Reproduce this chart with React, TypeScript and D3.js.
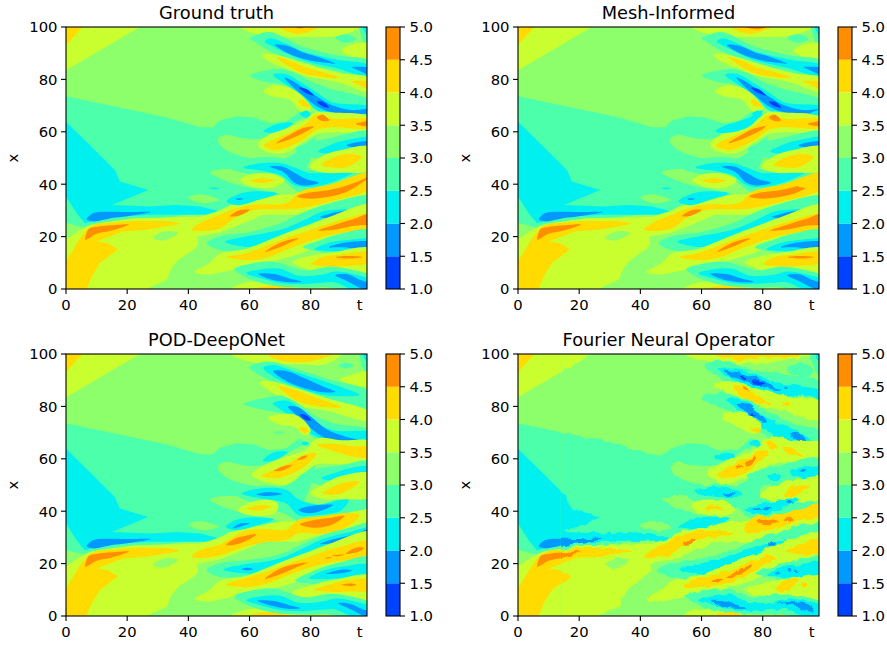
import React from 'react';
import * as d3 from 'd3';

type Pt = [number, number];
type Rb = [number, number, number];
type Streak = [number, Rb[]];

const bandColors = ['#0043ff', '#0099ff', '#00f0f0', '#4bffab', '#8cff6a', '#c9ff2e', '#ffdb00', '#ff8e00'];
const bandSpread = [1, 1, 1.05, 1.15, 1, 1.12, 1.05, 1];
const levels = [1, 1.5, 2, 2.5, 3, 3.5, 4, 4.5, 5];
const xTicks = [0, 20, 40, 60, 80];
const yTicks = [0, 20, 40, 60, 80, 100];
const titles = ['Ground truth', 'Mesh-Informed', 'POD-DeepONet', 'Fourier Neural Operator'];
const origins: Pt[] = [[66, 27], [518, 27], [66, 354], [518, 354]];

// band index: 0 B1, 1 B2, 2 cyan, 3 teal, 4 green, 5 lime, 6 gold, 7 orange
const regions: [number, Pt[]][] = [
  [5, [[-4, 104], [24.4, 104], [24.2, 100], [-4, 80.8]]],
  [6, [[-4, 104], [5.6, 104], [5.4, 100], [-4, 88]]],
  [3, [[-4, 74.5], [33, 65.5], [43.8, 61.7], [48.1, 61.7], [50.3, 64.2], [55.8, 65.9], [61.2, 65.5], [66.7, 63.3], [72, 64], [76.5, 67.8], [79.7, 65.2], [82, 60], [80, 50], [78, 44], [75.4, 39], [72, 36.5], [61.2, 34], [53.6, 32], [50, 30], [30, 27], [10, 25], [5.6, 23.6], [-4, 26.5]]],
  [2, [[-4, 68], [0, 63.8], [9.5, 53], [16, 45.4], [17.6, 41], [26.9, 37.8], [15, 32.1], [27.5, 31.5], [36.2, 32.1], [43.8, 31.5], [49.8, 29.8], [49.3, 28.3], [27.5, 28.3], [15, 27.5], [6.2, 25.1], [3.5, 28.9], [0, 35.3], [-4, 40]]],
  [5, [[-4, 16], [4.6, 22.5], [8, 24.5], [12, 25.4], [22, 27], [43.8, 27.6], [50.3, 30], [53.6, 32], [61.2, 34], [72, 36.5], [75.4, 39], [83, 42.2], [104, 47.5], [104, 36], [83, 30.8], [75.4, 28.3], [64.5, 28.3], [55.8, 24], [50, 21.5], [43, 20], [43.2, 17], [42.2, 15.5], [36.7, 11.1], [34.5, 8], [33, 3.5], [30, 2], [26.4, 0], [25, -4], [-4, -4]]],
  [6, [[-4, -4], [6.5, -4], [6.7, 0], [8.4, 4.8], [11.1, 9.9], [17.1, 15.2], [13.3, 17.7], [10, 18.1], [18.7, 21.9], [26.4, 22.6], [36.2, 24.5], [37.3, 25.1], [32.9, 26], [22, 26], [10, 24.9], [7.3, 23.2], [4.6, 19.4], [0, 10.5], [-4, 5]]],
];

const leftStreaks: Streak[] = [
  [1, [[6.8, 26.6, 0], [9, 27.4, 1.6], [15, 28.3, 1.2], [20, 28.6, 0.8], [27.8, 29.4, 0]]],
  [7, [[6.3, 18.8, 0], [7.5, 21.2, 1.8], [10, 22.4, 1.3], [15, 23.3, 1], [20.6, 24.6, 0]]],
];

const backdrop: Streak[] = [
  [4, [[49.5, 57, 0.8], [52, 56, 2.8], [58, 54, 3.5], [64, 53.5, 4], [72, 56, 6], [78, 60, 5], [84, 62, 4]]],
  [4, [[47, 44.5, 0.3], [50, 44, 1.6], [55, 43, 2.8], [65, 41.5, 4], [72, 40, 4], [76, 37, 3]]],
  [4, [[40, 35, 0.3], [44, 34.5, 1.7], [50, 34, 0.3]]],
  [4, [[28.5, 19.5, 0.2], [32, 20.2, 1.7], [36.7, 21.5, 0.2]]],
];

const cornerStreaks: Streak[] = [
  [3, [[96, 101, 1], [97.5, 98, 4], [100, 96, 6]]],
  [2, [[97, 100.5, 0.2], [98, 99, 1.4], [100, 98, 2]]],
];

const teal5: Streak = [3, [[46, 17.5, 0.6], [50.3, 17.5, 2.3], [60, 18.1, 3.2], [70, 20.7, 3.8], [78, 24.8, 4.1], [86, 27.6, 4.4], [100, 31.5, 3.2]]];
const lime6: Streak = [5, [[42, 6.4, 0.3], [47, 7.8, 2], [50.3, 9.9, 3.2], [59, 11.8, 3.2], [68.5, 15.3, 4], [77.5, 18.8, 4.4], [85.8, 22.8, 4.1], [100, 26.4, 5]]];
const teal7: Streak = [3, [[77.5, 16, 0.5], [84, 16.5, 2.2], [90, 17.2, 3.5], [100, 17.7, 4]]];
const lime8: Streak = [5, [[74, 10.3, 0.5], [80, 9.9, 2.5], [88, 10.3, 3.5], [100, 11.1, 3.8]]];
const limeBottom: Streak = [5, [[54, 0, 1], [60, 0, 2.4], [75, 0, 2], [90, 0, 1.5], [97, -1, 1]]];
const teal9: Streak = [3, [[55, 7.6, 0.6], [60, 6.7, 2.5], [68, 5.8, 4], [78, 3.8, 2.9], [86, 4.5, 3.5], [92, 3.5, 3.7], [100, 1, 3]]];
const cyan9: Streak = [2, [[59, 6, 0.3], [64, 5.8, 1.7], [70, 5, 2.6], [76, 3.5, 1.5], [84, 4, 1.5], [88, 4.6, 2], [94, 2.6, 2.9], [100, 0.7, 2.2]]];

const truthStreaks: Streak[] = [
  ...leftStreaks,
  ...backdrop,
  [2, [[47, 38.4, 0.05], [48.5, 38.4, 0.35], [50, 38.4, 0.05]]],
  [2, [[52.5, 33.5, 0.3], [56, 34, 1.9], [62, 35.5, 1.7], [69, 36.5, 0.3]]],
  [1, [[55.2, 34.4, 0.05], [56.5, 34.3, 0.35], [58, 34.4, 0.05]]],
  [5, [[57, 100, 0.5], [65, 100, 3], [80, 100, 3.4], [90, 100, 2.8], [96, 100, 1]]],
  [6, [[69, 100.5, 1], [76, 100, 2.5], [83, 100.5, 1]]],
  [7, [[75, 100, 0.2], [76.5, 100, 0.5], [78, 100, 0.2]]],
  ...cornerStreaks,
  [3, [[88, 95.8, 0.2], [91.5, 95.6, 1.4], [95, 95.4, 0.2]]],
  [5, [[90, 91, 0.4], [93, 91, 2], [100, 90, 3]]],
  [3, [[60, 95.6, 0.5], [62, 95.5, 1.2], [66.7, 94.4, 3.2], [77.5, 89.1, 2.9], [88.5, 86.2, 2.6], [100, 83, 3.2]]],
  [2, [[65, 94.4, 0.3], [66.7, 94.4, 1.2], [72, 91.8, 1.7], [77.5, 89, 1.6], [88.5, 85.9, 1.6], [100, 83, 1.9]]],
  [1, [[68.3, 93.2, 0.1], [72, 91.6, 1.3], [77.5, 89.1, 1.2], [83, 87.5, 0.9], [88, 86, 0.1]]],
  [1, [[93.4, 84.7, 0.1], [96, 84, 0.8], [100, 82.8, 1.3]]],
  [5, [[63.9, 89.4, 0.7], [67.7, 87.8, 1.6], [72, 86.2, 1.9], [77.5, 84, 2.2], [88.5, 80.8, 1.6], [100, 77.7, 2.2]]],
  [6, [[68.8, 88.5, 0.3], [72, 86.6, 1], [77.5, 83.6, 1.3], [85, 81.6, 0.8], [89.5, 80.7, 0.1]]],
  [6, [[93.4, 79.2, 0.1], [96, 78.6, 0.8], [100, 77.3, 1.3]]],
  [5, [[64.5, 75.5, 0.5], [68, 75.5, 1.9], [73, 74.6, 2], [77, 71.5, 3.5], [80, 68.5, 2]]],
  [6, [[76, 71.6, 0.2], [77.5, 71, 1.2], [80, 69.5, 0.2]]],
  [3, [[60.1, 81.5, 0.8], [65, 81.2, 1.8], [70, 81.1, 2.5], [75.4, 78.9, 2.9], [80, 74.8, 3.8], [85.8, 71.6, 4.4], [100, 68.3, 2.7]]],
  [2, [[67.7, 81.7, 0.4], [72, 80, 1.9], [77, 76.4, 2.2], [82, 71.6, 3.2], [87, 69, 2.2], [100, 68, 1.3]]],
  [1, [[71.5, 80.7, 0.2], [74, 78.4, 1.1], [78, 74.9, 1.5], [82, 71.6, 1.9], [87, 68.8, 1.3], [93, 67.5, 0.8], [100, 68, 0.5]]],
  [0, [[76.2, 76.8, 0.2], [78.6, 75.5, 0.8], [81, 73.9, 0.1]]],
  [0, [[82, 71.5, 0.1], [84, 70.6, 0.9], [86, 69.3, 0.1]]],
  [2, [[64.5, 60.1, 0.2], [69, 61.4, 1.5], [74.3, 63.3, 0.2]]],
  [2, [[76.5, 66.8, 0.2], [78.5, 66.8, 1.3], [80, 66.8, 0.2]]],
  [5, [[62.8, 55, 1], [66, 55.4, 2.9], [72, 56.7, 4.1], [77.5, 60.1, 3.6], [82, 63.3, 3.8], [87, 63.6, 3.4], [100, 63, 2.2]]],
  [6, [[64.7, 54.8, 0.5], [69, 55.3, 2.2], [73, 57, 2.5], [78, 60.1, 2.6], [82, 63.7, 2.8], [87, 63.4, 1.6], [100, 63, 1.3]]],
  [7, [[68.8, 55.7, 0.1], [72, 57.4, 0.7], [77, 60.2, 1], [81, 62, 0.2]]],
  [7, [[82, 65.5, 0.2], [84, 65.3, 1.2], [86, 64.3, 0.1]]],
  [7, [[94.8, 63, 0.1], [97, 63, 0.7], [100, 63.1, 1]]],
  [3, [[75, 53.2, 0.5], [80, 53.2, 2.5], [86, 53.5, 3.5], [100, 55.7, 3.8]]],
  [2, [[82.5, 52.5, 0.5], [86, 53.2, 1.5], [92, 54, 2.7], [100, 55.3, 2.2]]],
  [1, [[91.7, 54.8, 0.1], [95, 55, 1], [100, 55.1, 1]]],
  [3, [[54, 46, 0.5], [60, 46.7, 2.5], [70, 46, 3.5], [76, 42.2, 4.5], [82, 40.3, 4], [88, 41.6, 3], [100, 44.2, 2]]],
  [2, [[58, 46.4, 0.4], [64, 46.6, 1.4], [70, 45.8, 2.2], [75, 42.9, 3.2], [80, 41.6, 2.5], [87, 42.8, 2], [95.6, 45.7, 0.3]]],
  [1, [[66.6, 46.7, 0.1], [71, 45.7, 1], [75, 42.3, 1.9], [78.6, 40.7, 1.2], [82.6, 40.6, 0.1]]],
  [5, [[79.7, 46.7, 0.5], [84, 47.7, 2.9], [90, 48.7, 3.9], [100, 49.9, 3.8]]],
  [6, [[83.5, 47.3, 0.2], [87, 48.2, 1.7], [92, 49.1, 2.4], [96.6, 50.5, 0.2]]],
  [5, [[57, 41.4, 0.4], [61, 41.5, 2.2], [68, 41.3, 2.2], [71.5, 41.4, 0.4]]],
  [6, [[60, 41.3, 0.1], [64, 41.3, 0.8], [68.3, 41.4, 0.1]]],
  [6, [[41, 22.6, 0.3], [44, 23.7, 1.5], [50.3, 25.7, 2.5], [54.7, 28.6, 1.8], [61.2, 31.1, 1], [72, 31.6, 1.2], [76.5, 34, 3], [86.3, 36.6, 3.1], [100, 41.6, 2.6]]],
  [7, [[53.6, 27.8, 0.1], [56.5, 29, 1], [60, 30.2, 0.1]]],
  [7, [[75.6, 35.3, 0.2], [79, 35.6, 1.1], [86, 36.5, 1.3], [92, 38.4, 1.2], [98, 41.9, 0.5], [100, 43, 0.5]]],
  teal5,
  [2, [[52, 18.1, 0.6], [58, 18, 1.8], [65, 19, 2.2], [72, 21.3, 1.9], [78, 24.1, 2.2], [84, 27.2, 2.3], [92, 29, 1.4], [96, 30.2, 0.2]]],
  [1, [[83, 27.4, 0.1], [88, 28.3, 1], [93, 29.6, 0.6], [95.5, 30.4, 0.1]]],
  lime6,
  [6, [[52.5, 12.2, 0.2], [59, 12.4, 1.3], [65, 14, 2.2], [72, 17.2, 2.2], [80, 20.5, 2], [87, 23, 2.2], [100, 26.3, 2.1]]],
  [7, [[65, 14.1, 0.1], [69.5, 16.6, 0.8], [76, 19.4, 0.1]]],
  [7, [[82.5, 22.3, 0.1], [88, 23.6, 0.9], [94, 25.4, 1.3], [100, 27, 1.9]]],
  teal7,
  [2, [[81.3, 15.2, 0.2], [86, 16.1, 1.5], [92, 16.5, 2.1], [100, 17.2, 1.6]]],
  [1, [[86, 16, 0.1], [90, 16.7, 0.8], [100, 16.7, 1.1]]],
  lime8,
  [6, [[80, 9.5, 0.3], [84, 10.5, 1.7], [90, 10.9, 2.2], [100, 12.2, 1.6]]],
  [7, [[88, 12.2, 0.05], [92, 12.1, 0.5], [97, 12.2, 0.05]]],
  limeBottom,
  [6, [[61, -0.2, 0.4], [66, 0, 1.2], [72, 0, 1.1], [76, -0.2, 0.3]]],
  teal9,
  cyan9,
  [1, [[62.8, 5.8, 0.1], [68, 4.5, 1.2], [73, 3.3, 0.7], [77, 2.8, 0.1]]],
  [1, [[88, 5.3, 0.1], [92, 4.3, 1.3], [96, 2, 1.5], [100, 0.2, 1.5]]],
];

const meshPatches: Streak[] = [
  [6, [[91.5, 39.2, 0], [95, 40.4, 1.6], [100, 43, 1.8]]],
  [5, [[97.5, 45, 0], [100, 45.5, 1]]],
  [7, [[74.5, 100, 0], [78, 100, 0.9], [81, 100, 0]]],
  [2, [[95.5, 67, 0], [98, 67.4, 1], [100, 68, 1.2]]],
  [2, [[65, 60, 0], [70, 61.5, 1.6], [76, 64, 1.6], [79, 67, 1], [80, 68, 0]]],
];
const meshStreaks: Streak[] = [...truthStreaks, ...meshPatches];

const podStreaks: Streak[] = [
  ...leftStreaks,
  ...backdrop,
  [5, [[54, 100, 0], [62, 100, 3], [75, 100, 3.5], [85, 100, 3.4], [90, 100, 0]]],
  [6, [[66, 100, 0], [70, 100, 2.4], [80, 100, 2.6], [86.5, 100, 0]]],
  ...cornerStreaks,
  [3, [[89, 95.5, 0], [91.5, 95.5, 0.9], [94, 95.5, 0]]],
  [5, [[89.5, 90.2, 0], [93, 90.2, 1.5], [100, 90.5, 2.5]]],
  [3, [[60, 94.9, 0], [66, 93.7, 3], [75, 90, 3.8], [85, 86.3, 3.8], [100, 81.6, 2.9]]],
  [2, [[64.5, 94.8, 0], [68, 93.5, 2.2], [75, 90.3, 2.7], [85, 86.8, 2.4], [96, 84.4, 0]]],
  [1, [[67.7, 93.5, 0], [72, 91.6, 1.9], [78, 88.8, 1.9], [84, 86.5, 1.1], [88, 85.6, 0]]],
  [5, [[63.4, 89.2, 0], [68, 87.1, 2.1], [75, 83.8, 3], [85, 80.8, 2.2], [100, 76, 1.3]]],
  [6, [[69.4, 87.8, 0], [75, 84.3, 1.9], [82, 81.6, 1.5], [90, 79.7, 0]]],
  [3, [[58, 80.9, 0], [64, 80.9, 1.8], [70, 80.8, 2.9], [76, 77.7, 2.9], [81, 72.3, 3.8], [88, 69.7, 3.2], [100, 67.1, 3]]],
  [2, [[67.7, 81.2, 0], [72, 79.8, 2.3], [77, 75.5, 3.2], [82, 71, 2.5], [88, 68.1, 2.5], [100, 67.2, 2.5]]],
  [1, [[72.6, 79.9, 0], [76, 77.9, 1.8], [80, 73.9, 2.2], [85, 69.6, 1.8], [91, 67.5, 1.1], [96, 66.9, 0]]],
  [0, [[76.5, 76.9, 0], [78.3, 75.8, 0.9], [80.2, 74.6, 0]]],
  [5, [[66, 75.7, 0], [70, 75, 1.8], [75, 74.4, 2.1], [78, 71.6, 2.5], [80, 70.6, 0]]],
  [6, [[76, 71.6, 0], [78, 71, 1], [79.5, 70.4, 0]]],
  [3, [[67.7, 70.1, 0], [69.5, 70.1, 0.4], [71.5, 70.1, 0]]],
  [5, [[60.7, 53.9, 0], [66, 54.5, 3.2], [72, 55.5, 4.8], [78, 58.9, 3.8], [82, 62.8, 4.4], [90, 62.5, 4.1], [100, 62.1, 3.8]]],
  [6, [[64, 53.5, 0], [69, 54.4, 1.8], [74, 56.8, 2.2], [78, 59.3, 2.2], [82, 62.1, 0]]],
  [7, [[68, 55.4, 0], [71, 56.4, 0.8], [74, 57.7, 0]]],
  [7, [[75.5, 59.5, 0], [77.5, 60.5, 0.6], [79, 61.2, 0]]],
  [6, [[82, 65.3, 0], [88, 64.2, 1.4], [94, 62.8, 1.9], [100, 62.5, 1.7]]],
  [2, [[64.3, 59.2, 0], [68, 60.9, 1.5], [72.5, 62.5, 0]]],
  [2, [[77, 65.9, 0], [78.2, 65.9, 0.7], [79.5, 65.9, 0]]],
  [3, [[76, 53, 0], [82, 53.2, 2.5], [90, 53.2, 3.8], [100, 54.5, 3.8]]],
  [2, [[83.5, 52.6, 0], [88, 53.1, 1.5], [93, 54.2, 2.2], [100, 54.9, 1.9]]],
  [3, [[55, 47, 0], [62, 46.2, 3], [72, 43.7, 4.3], [77, 39.8, 3.8], [84, 39.2, 3.2], [92, 43, 3.2], [100, 45, 2.5]]],
  [2, [[57.5, 46.8, 0], [64, 46.8, 1.9], [72, 45.6, 2.5], [76, 41.5, 2.9], [82, 40.5, 1.9], [90, 42.4, 1.9], [92.5, 44.5, 0]]],
  [1, [[62.3, 46.4, 0], [66, 46.5, 0.7], [70.5, 46.6, 0]]],
  [1, [[76, 40.5, 0], [80, 40.6, 1.4], [87.3, 42.4, 0]]],
  [5, [[80, 46.8, 0], [84, 47.5, 2.5], [90, 49, 4], [100, 50, 3.8]]],
  [6, [[84, 46.8, 0], [90, 48.7, 1.9], [96, 51.3, 0]]],
  [5, [[56.3, 40.4, 0], [60, 40.9, 2.2], [68, 41.5, 2.2], [69.5, 42, 0]]],
  [6, [[59, 41, 0], [63, 41.2, 1], [67.2, 41.9, 0]]],
  [2, [[52.3, 34.1, 0], [56, 34.8, 1.9], [62, 36, 1.5], [68, 36.9, 0]]],
  [1, [[54.4, 33.5, 0], [57, 34.7, 0.6], [60, 35.4, 0]]],
  [6, [[41, 22.6, 0], [44, 23.7, 1.5], [50.3, 25.2, 2], [58, 29.3, 2.9], [65, 30.7, 2.4], [72, 31, 1.9], [76, 34.1, 2.5], [84, 34.8, 3.2], [92, 36.7, 2.5], [96, 38.6, 0]]],
  [7, [[76.5, 35, 0], [80, 35.1, 1.3], [86, 35.9, 1.5], [91, 38.2, 0]]],
  [7, [[52.3, 27.1, 0], [55, 28.3, 1.1], [58, 29.3, 1.1], [62.3, 31.2, 0]]],
  [3, [[46, 17.5, 0], [50.3, 17.5, 2.3], [58, 18, 2.8], [66, 18.6, 3.4], [72, 20.5, 3.4], [78, 23, 4.2], [84, 26.3, 4.1], [92, 28.8, 4.1], [100, 31.3, 3.5]]],
  [2, [[51.4, 17.7, 0], [58, 18, 1.6], [66, 18.6, 2.2], [72, 20.5, 2.2], [78, 23, 3], [84, 26.3, 2.9], [92, 28.8, 2.9], [100, 31.3, 2.2]]],
  [1, [[83, 27.5, 0], [88, 28.7, 0.8], [94, 30, 1], [100, 32.2, 1.2]]],
  [1, [[57.4, 17.9, 0], [59.3, 17.9, 0.5], [61.2, 17.9, 0]]],
  lime6,
  [6, [[52.3, 11.9, 0], [59, 12.8, 1.7], [66, 14.8, 2.2], [72, 17.5, 2.1], [80, 20.7, 2], [88, 23.3, 2.5], [100, 25.9, 2.5]]],
  [7, [[65, 14.1, 0], [70, 17, 1.1], [75, 19.1, 0.7], [79, 20.4, 0]]],
  [7, [[84.5, 22, 0], [85.5, 22.1, 0.25], [87, 22.3, 0]]],
  [7, [[86.8, 23, 0], [89, 23.1, 0.3], [91, 23.4, 0]]],
  [7, [[91.5, 23.8, 0], [95, 25.2, 0.9], [97.5, 26, 0]]],
  [3, [[75, 13.5, 0], [82, 15, 2.4], [90, 16.6, 3.5], [100, 18, 3.8]]],
  [2, [[79.5, 14.4, 0], [84, 15.7, 1.5], [90, 16.6, 2.1], [100, 17, 2.2]]],
  [1, [[85, 16.1, 0], [90, 17, 0.7], [93.4, 17.4, 0]]],
  [5, [[74, 9, 0], [80, 9, 2.4], [88, 10, 3.5], [100, 11, 3.8]]],
  [6, [[81, 10, 0], [86, 10.6, 1.3], [92, 11.5, 2.1], [100, 12, 1.8]]],
  [7, [[90, 11.9, 0], [93, 11.9, 0.5], [95, 11.9, 0]]],
  limeBottom,
  [6, [[60, 0, 0.2], [64, 0, 1.3], [70, 0, 1.1], [73, 0, 0.2]]],
  teal9,
  cyan9,
  [1, [[62.5, 5.8, 0], [68, 4.7, 1], [73, 3.4, 0.7], [76.5, 3, 0]]],
  [1, [[89, 4.9, 0], [93, 3.6, 1], [97, 1.4, 1.2], [100, -0.2, 1.3]]],
];

const fnoStreaks: Streak[] = [
  ...leftStreaks,
  ...backdrop,
  [5, [[55, 100, 0], [65, 100, 2.8], [85, 100, 2.6], [96, 100, 1.5]]],
  [6, [[64, 100, 0], [70, 100, 2], [77, 100, 1.8], [83, 100, 1], [88, 100, 1.6], [93, 100, 0.6]]],
  ...cornerStreaks,
  [3, [[88, 94, 0], [92, 94, 2.5], [97, 93, 3]]],
  [5, [[89.5, 91, 0], [91, 91, 0.9], [92, 91, 0]]],
  [3, [[61, 95.5, 0], [66, 94.3, 2.9], [75, 90.4, 3.5], [85, 87.9, 4], [100, 84.7, 3.5]]],
  [2, [[65.5, 94.3, 0], [70, 92.7, 2], [76, 90, 2.5], [84, 86.8, 2.4], [92, 86, 1.6], [100, 84.3, 1.3]]],
  [1, [[67, 93.9, 0], [72, 91.7, 1.3], [78, 89.4, 1.3], [83, 87.5, 1], [86, 86.3, 0]]],
  [0, [[72.5, 91.7, 0], [73.5, 91.4, 0.8], [74.8, 90.6, 0]]],
  [0, [[76.5, 89.6, 0], [78.5, 89.2, 0.7], [80.5, 88.6, 0]]],
  [1, [[87, 87.2, 0], [87.6, 87.2, 0.6], [88.2, 87.2, 0]]],
  [5, [[64, 88.4, 0], [68, 87.5, 1.9], [75, 84.1, 3.4], [85, 81.8, 2.5], [100, 77.7, 2.9]]],
  [6, [[70.5, 87.5, 0], [74, 85, 1.9], [78, 82.8, 1.6], [82.5, 81.2, 0]]],
  [7, [[73, 87, 0], [74.5, 86.8, 0.4], [76, 86.2, 0]]],
  [6, [[86.5, 80.7, 0], [88, 80.7, 0.8], [89, 80.7, 0]]],
  [3, [[60, 83.3, 0], [66, 82.4, 2.5], [72, 80.3, 3], [78, 76.1, 3.8], [84, 71.7, 4.4], [92, 68.9, 3.5], [100, 66.6, 3.2]]],
  [2, [[68, 82.4, 0], [72, 80.8, 2], [78, 76.1, 2.5], [84, 71.4, 2.5], [90, 69.1, 1.9], [97, 65.9, 0]]],
  [1, [[71.5, 80.8, 0], [75, 79, 1.5], [80, 75.2, 1.1], [81, 74.4, 0]]],
  [0, [[76, 77, 0], [77, 76.9, 0.5], [78, 76.5, 0]]],
  [1, [[89, 69.4, 0], [92, 68.1, 1.5], [94, 66.6, 0]]],
  [5, [[67, 76.1, 0], [71, 75.4, 2.5], [76, 72.9, 3.2], [79.5, 71.6, 0]]],
  [6, [[76.2, 71.3, 0], [78, 71, 1], [79.8, 70.8, 0]]],
  [5, [[61.7, 54.5, 0], [66, 54.5, 3.2], [72, 56.2, 4.1], [78, 59.6, 4.4], [83, 63.1, 4.8], [90, 63.1, 3.5], [100, 62.1, 3.2]]],
  [6, [[65, 53.6, 0], [70, 55.1, 2.2], [75, 57.7, 2.5], [79, 61, 2], [82, 62.8, 0]]],
  [7, [[71, 56.5, 0], [72.5, 56.7, 0.5], [73.5, 56.6, 0]]],
  [7, [[74, 57.6, 0], [76, 59, 1.2], [77.5, 60.8, 0]]],
  [6, [[81, 66, 0], [83, 65.5, 1.7], [84.5, 64.5, 0]]],
  [6, [[86, 64.5, 0], [90, 62.3, 1.3], [93.5, 60.5, 0]]],
  [2, [[64.5, 60.5, 0], [68, 60.8, 1.4], [71, 61, 0]]],
  [2, [[76, 66, 0], [78, 66, 1.2], [79.5, 66, 0]]],
  [3, [[75, 53.2, 0], [80, 53.2, 2.5], [86, 53.5, 3.5], [100, 55.7, 3.8]]],
  [2, [[89, 55, 0], [93, 54.8, 2], [100, 54.5, 2.2]]],
  [1, [[92, 55.3, 0], [93, 55.3, 0.5], [94.3, 55.3, 0]]],
  [2, [[81.5, 53.1, 0], [84, 52.9, 1.3], [86, 53, 0]]],
  [3, [[54, 46, 0.5], [60, 46.7, 2.5], [70, 46, 3.5], [76, 42.2, 4.5], [82, 40.3, 4], [88, 41.6, 3], [100, 44.2, 2]]],
  [5, [[79, 46, 0], [85, 47, 3], [92, 48, 3.8], [100, 49, 3.5]]],
  [6, [[86.5, 46, 0], [90, 47.5, 1.8], [95.5, 50, 0]]],
  [2, [[58, 47.5, 0], [64, 47.5, 1.8], [70, 47, 1.6], [73, 46, 0]]],
  [1, [[66.5, 46.6, 0], [69, 46.4, 0.5], [71, 46.6, 0]]],
  [2, [[74, 40.5, 0], [78, 40.6, 1.7], [84, 41.8, 1.9], [88, 43.4, 1.3], [91.5, 44.5, 0]]],
  [1, [[76, 40.6, 0], [78, 40.6, 0.5], [79.5, 40.6, 0]]],
  [1, [[80, 40.7, 0], [81.5, 41, 0.7], [83, 41.2, 0]]],
  [1, [[87.5, 43, 0], [88.5, 43.3, 0.6], [89.5, 43.5, 0]]],
  [5, [[56.5, 42, 0], [60, 41.8, 2.2], [68, 41, 2.2], [71, 40.5, 0]]],
  [6, [[61, 41.2, 0], [64, 41.2, 0.9], [67, 41.2, 0]]],
  [2, [[52.4, 33.9, 0], [57, 35, 1.8], [63, 36.2, 1.7], [69.3, 37.3, 0]]],
  [6, [[41, 22.6, 0], [44, 23.7, 1.5], [49.7, 26, 2.5], [54, 29, 2], [60, 31, 1.6], [66, 31.5, 1.2], [70, 31.5, 0.3]]],
  [6, [[74, 32.5, 0], [76, 34.5, 2.5], [86, 36.6, 2.2], [94, 39, 2.2], [100, 41.7, 2.5]]],
  [7, [[78, 35.6, 0], [81, 35.8, 1.1], [85, 36, 0.4], [85.5, 36, 0]]],
  [7, [[86.5, 36.5, 0], [89, 37, 0.9], [90.5, 37, 0]]],
  [7, [[54, 27.5, 0], [56, 28.3, 1], [58.5, 29.5, 0]]],
  teal5,
  [2, [[52.5, 18, 0], [66, 18.6, 2.9], [79, 24, 2.5], [94, 29.5, 0]]],
  [1, [[82, 27.3, 0], [83, 27.5, 1], [84, 27.8, 0]]],
  lime6,
  [6, [[53.5, 12, 0], [60, 12.7, 1.8], [68, 14.7, 2.2], [75, 18, 2.2], [82, 21.8, 1.3], [84.8, 22, 0]]],
  [7, [[63, 12.8, 0], [65, 13.4, 0.7], [66.7, 14, 0]]],
  [7, [[68.5, 15, 0], [72, 16.5, 1], [76.5, 19.2, 0]]],
  [6, [[87, 24.5, 0], [92, 25.5, 1.8], [100, 26.5, 2.2]]],
  teal7,
  [2, [[81.5, 15.5, 0], [86, 16.5, 1.8], [92, 17.2, 2.2], [100, 18.5, 2]]],
  [1, [[84, 16.3, 0], [85, 16.2, 0.5], [86, 16.3, 0]]],
  [1, [[88, 17.5, 0], [88.8, 17.5, 0.5], [89.7, 17.5, 0]]],
  [1, [[90.5, 17.2, 0], [91, 17.2, 0.4], [91.8, 17.2, 0]]],
  lime8,
  [6, [[84, 10.2, 0], [88, 11.7, 2.2], [91.7, 13.8, 0]]],
  [6, [[92.5, 11.9, 0], [93.5, 12, 1.1], [94.7, 12, 0]]],
  limeBottom,
  [6, [[62, -0.3, 0.2], [66, 0, 1], [70, 0, 0.9], [73, 0, 0.2]]],
  [6, [[83, -0.5, 0.1], [85, 0, 0.7], [87, -0.5, 0.1]]],
  teal9,
  cyan9,
  [1, [[62.8, 6, 0], [68, 4.5, 1.2], [72, 3.3, 0.6], [75, 3, 0]]],
  [1, [[85, 5, 0], [90, 4.6, 0.7], [95, 3, 1.2], [97, 2, 0]]],
];

const panelStreaks = [truthStreaks, meshStreaks, podStreaks, fnoStreaks];

const tMax = 98.4;
const tScale = d3.scaleLinear().domain([0, tMax]).range([0, 301]);
const xScale = d3.scaleLinear().domain([0, 100]).range([262, 0]);
const cScale = d3.scaleLinear().domain([1, 5]).range([262, 0]);
const smooth = d3
  .line<Pt>()
  .x((d) => tScale(d[0]))
  .y((d) => xScale(d[1]))
  .curve(d3.curveCatmullRomClosed.alpha(0.5));
const straight = d3
  .line<Pt>()
  .x((d) => tScale(d[0]))
  .y((d) => xScale(d[1]))
  .curve(d3.curveLinearClosed);

// Outline of a streak: a rounded tip at an end inside the panel, full width at the right edge.
const ribbon = (r: Rb[], spread: number): Pt[] => {
  const last = r[r.length - 1];
  const openEnd = last[0] >= tMax;
  const mid = openEnd ? r.slice(1) : r.slice(1, -1);
  const out: Pt[] = [[r[0][0], r[0][1]]];
  mid.forEach((p) => out.push([p[0], p[1] + p[2] * spread]));
  if (!openEnd) out.push([last[0], last[1]]);
  mid.slice().reverse().forEach((p) => out.push([p[0], p[1] - p[2] * spread]));
  return out;
};

const font = 'DejaVu Sans';
const tickSize = 14.8;

function Field({ idx }: { idx: number }) {
  return (
    <>
      <rect x={-10} y={-10} width={321} height={282} fill={bandColors[4]} />
      {regions.map(([b, pts], i) => (
        <path key={i} d={straight(pts) ?? ''} fill={bandColors[b]} />
      ))}
      {panelStreaks[idx].map(([b, r], i) => (
        <path key={i} d={smooth(ribbon(r, bandSpread[b])) ?? ''} fill={bandColors[b]} />
      ))}
    </>
  );
}

function Panel({ idx }: { idx: number }) {
  const [ox, oy] = origins[idx];
  const jag = idx === 3;
  return (
    <g transform={`translate(${ox},${oy})`}>
      <clipPath id={`clip${idx}`}>
        <rect width={301} height={262} />
      </clipPath>
      {jag && (
        <>
          <filter id="jag" x={-10} y={-10} width={321} height={282} filterUnits="userSpaceOnUse">
            <feTurbulence type="fractalNoise" baseFrequency="0.11" numOctaves={2} seed={4} result="n" />
            <feDisplacementMap in="SourceGraphic" in2="n" scale={6} xChannelSelector="R" yChannelSelector="G" />
          </filter>
          <clipPath id="cleanLeft">
            <rect width={tScale(14)} height={262} />
          </clipPath>
        </>
      )}
      <g clipPath={`url(#clip${idx})`}>
        <g filter={jag ? 'url(#jag)' : undefined}>
          <Field idx={idx} />
        </g>
        {jag && (
          <g clipPath="url(#cleanLeft)">
            <Field idx={idx} />
          </g>
        )}
      </g>
      <rect width={301} height={262} fill="none" stroke="#000" strokeWidth={1.1} />
      {xTicks.map((t) => (
        <g key={t} transform={`translate(${tScale(t)},262)`}>
          <line y2={5} stroke="#000" strokeWidth={1.1} />
          <text y={20.5} textAnchor="middle" fontSize={tickSize} fontFamily={font}>{t}</text>
        </g>
      ))}
      <text x={tScale(96)} y={20.5 + 262} textAnchor="middle" fontSize={tickSize} fontFamily={font}>t</text>
      {yTicks.map((t) => (
        <g key={t} transform={`translate(0,${xScale(t)})`}>
          <line x2={-5} stroke="#000" strokeWidth={1.1} />
          <text x={-8.5} dy="0.36em" textAnchor="end" fontSize={tickSize} fontFamily={font}>{t}</text>
        </g>
      ))}
      <text transform="translate(-52,131) rotate(-90)" textAnchor="middle" dy="0.3em" fontSize={tickSize} fontFamily={font}>x</text>
      <text x={150.5} y={-8.5} textAnchor="middle" fontSize={17.8} fontFamily={font}>{titles[idx]}</text>
      <g transform="translate(320,0)">
        {levels.slice(0, -1).map((l, i) => (
          <rect key={l} x={0} width={14} y={cScale(levels[i + 1])} height={cScale(l) - cScale(levels[i + 1])} fill={bandColors[i]} />
        ))}
        <rect width={14} height={262} fill="none" stroke="#000" strokeWidth={1.1} />
        {levels.map((l) => (
          <g key={l} transform={`translate(14,${cScale(l)})`}>
            <line x2={5} stroke="#000" strokeWidth={1.1} />
            <text x={9.5} dy="0.36em" fontSize={tickSize} fontFamily={font}>{l.toFixed(1)}</text>
          </g>
        ))}
      </g>
    </g>
  );
}

export default function App() {
  return (
    <svg width={887} height={646} style={{ position: 'fixed', left: 0, top: 0, background: '#fff' }}>
      {titles.map((_, i) => (
        <Panel key={i} idx={i} />
      ))}
    </svg>
  );
}
